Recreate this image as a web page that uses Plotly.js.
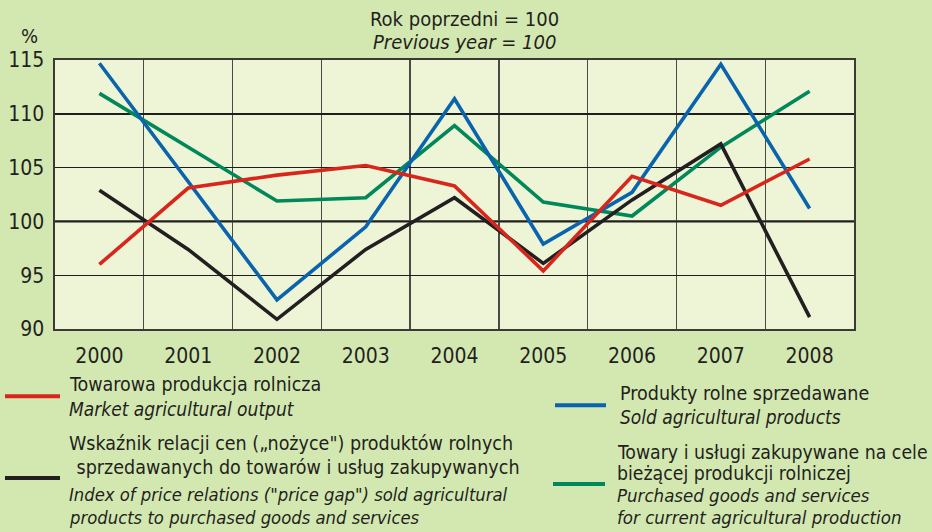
<!DOCTYPE html>
<html>
<head>
<meta charset="utf-8">
<script src="https://cdn.plot.ly/plotly-3.0.1.min.js"></script>
<style>html,body{margin:0;padding:0;background:#d3e8b1;}#chart{width:932px;height:532px;}</style>
</head>
<body>
<div id="chart"></div>
<script>
const years = ['2000','2001','2002','2003','2004','2005','2006','2007','2008'];
const marketOutput = [96.0, 103.1, 104.3, 105.2, 103.3, 95.4, 104.2, 101.5, 105.8];
const soldProducts = [114.7, 103.7, 92.7, 99.5, 111.4, 97.9, 102.7, 114.6, 101.2];
const purchasedGoods = [111.9, 106.9, 101.9, 102.2, 108.9, 101.8, 100.5, 106.9, 112.1];
const priceGap = [102.9, 97.4, 90.9, 97.4, 102.2, 96.1, 102.0, 107.2, 91.1];
const yTicks = [90, 95, 100, 105, 110, 115];

const FONT = '"Liberation Sans Narrow", "DejaVu Sans Condensed", "Liberation Sans", Arial, sans-serif';
const INK = '#231f20';
const C = {red:'#d9261c', blue:'#0a64ad', green:'#00875a', black:'#231f20'};

// layout helpers: pixel -> paper
const L = 55, R = 854, T = 59.5, B = 329.5;
const px = x => (x - L) / (R - L);
const py = y => (B - y) / (B - T);

function tr(y, color, name) {
  return {x: years, y: y, type: 'scatter', mode: 'lines', name: name,
          line: {color: color, width: 3.6}, hoverinfo: 'x+y'};
}
const data = [
  tr(purchasedGoods, C.green, 'Purchased goods and services'),
  tr(priceGap, C.black, 'Price gap'),
  tr(soldProducts, C.blue, 'Sold agricultural products'),
  tr(marketOutput, C.red, 'Market agricultural output')
];

function ann(text, x, y, size, opts) {
  return Object.assign({text: text, xref: 'paper', yref: 'paper', x: px(x), y: py(y),
    xanchor: 'left', yanchor: 'middle', showarrow: false,
    font: {family: FONT, size: size, color: INK}}, opts || {});
}
function legLine(x0, x1, y, color) {
  return {type: 'line', xref: 'paper', yref: 'paper', x0: px(x0), x1: px(x1), y0: py(y), y1: py(y),
    line: {color: color, width: 4}};
}

const annotations = [
  ann('Rok poprzedni = 100', 464, 18, 20, {xanchor: 'center'}),
  ann('<i>Previous year = 100</i>', 464, 41, 20, {xanchor: 'center'}),
  ann('%', 29, 35, 20, {xanchor: 'center'}),
  ann('Towarowa produkcja rolnicza', 67, 385, 19.5),
  ann('<i>Market agricultural output</i>', 67, 410, 19),
  ann('Wskaźnik relacji cen („nożyce") produktów rolnych', 67, 444, 19.5),
  ann(' sprzedawanych do towarów i usług zakupywanych', 69, 469, 19.5),
  ann('<i>Index of price relations ("price gap") sold agricultural</i>', 67, 496, 18.3),
  ann('<i>products to purchased goods and services</i>', 67, 519, 18.3),
  ann('Produkty rolne sprzedawane', 618, 394, 19.5),
  ann('<i>Sold agricultural products</i>', 618, 418, 19),
  ann('Towary i usługi zakupywane na cele', 615, 453, 19.3),
  ann('bieżącej produkcji rolniczej', 615, 475, 19.3),
  ann('<i>Purchased goods and services</i>', 615, 497, 18.5),
  ann('<i>for current agricultural production</i>', 615, 519, 18.5)
];

const shapes = [
  {type: 'line', xref: 'paper', yref: 'y', x0: 0, x1: 1, y0: 100, y1: 100, layer: 'below',
   line: {color: INK, width: 2.4}},
  legLine(5, 60, 397, C.red),
  legLine(5, 60, 479, C.black),
  legLine(555, 606, 406, C.blue),
  legLine(553, 605, 485, C.green)
];

const layout = {
  width: 932, height: 532,
  paper_bgcolor: '#d3e8b1', plot_bgcolor: '#eef5d6',
  margin: {l: L, r: 932 - R, t: T, b: 532 - B, pad: 0},
  showlegend: false,
  font: {family: FONT, size: 20, color: INK},
  xaxis: {type: 'category', range: [-0.5, 8.5], tickson: 'boundaries',
          showgrid: true, gridcolor: '#4a4a44', gridwidth: 1.4,
          showline: true, mirror: true, linecolor: '#3a3a36', linewidth: 1.6,
          ticks: '', ticklabelstandoff: 7, tickfont: {family: FONT, size: 21, color: INK},
          fixedrange: true},
  yaxis: {range: [90, 115], tickvals: yTicks, showgrid: true, gridcolor: '#1e1e1c', gridwidth: 1.4,
          zeroline: false, showline: true, mirror: true, linecolor: '#3a3a36', linewidth: 1.6,
          ticks: '', ticklabelstandoff: 5, tickfont: {family: FONT, size: 21, color: INK},
          fixedrange: true},
  annotations: annotations,
  shapes: shapes
};

Plotly.newPlot('chart', data, layout, {displayModeBar: false, staticPlot: true});
</script>
</body>
</html>
